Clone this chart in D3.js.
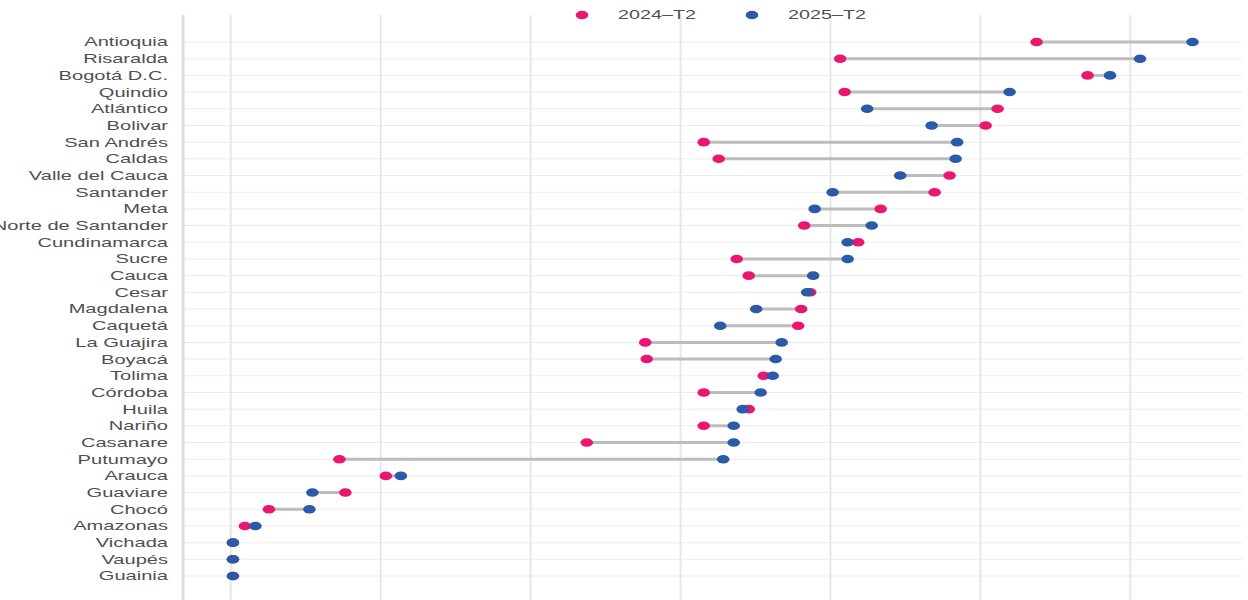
<!DOCTYPE html>
<html>
<head>
<meta charset="utf-8">
<script src="https://cdn.jsdelivr.net/npm/d3@7"></script>
<style>
  html, body { margin: 0; padding: 0; background: #fff; overflow: hidden; }
  svg { display: block; }
</style>
</head>
<body>
<svg id="chart"></svg>
<script>
// departments, top to bottom
var departments = ["Antioquia", "Risaralda", "Bogotá D.C.", "Quindio", "Atlántico", "Bolivar",
  "San Andrés", "Caldas", "Valle del Cauca", "Santander", "Meta", "Norte de Santander",
  "Cundinamarca", "Sucre", "Cauca", "Cesar", "Magdalena", "Caquetá", "La Guajira", "Boyacá",
  "Tolima", "Córdoba", "Huila", "Nariño", "Casanare", "Putumayo", "Arauca", "Guaviare",
  "Chocó", "Amazonas", "Vichada", "Vaupés", "Guainia"];

var t2024 = [53.8, 40.7, 57.2, 41.0, 51.2, 50.4, 31.6, 32.6, 48.0, 47.0, 43.4, 38.3,
  41.9, 33.8, 34.6, 38.7, 38.1, 37.9, 27.7, 27.8, 35.6, 31.6, 34.6, 31.6, 23.8, 7.3,
  10.4, 7.7, 2.6, 1.0, 0.2, 0.2, 0.2];

var t2025 = [64.2, 60.7, 58.7, 52.0, 42.5, 46.8, 48.5, 48.4, 44.7, 40.2, 39.0, 42.8,
  41.2, 41.2, 38.9, 38.5, 35.1, 32.7, 36.8, 36.4, 36.2, 35.4, 34.2, 33.6, 33.6, 32.9,
  11.4, 5.5, 5.3, 1.7, 0.2, 0.2, 0.2];

var seriesNames = ["2024\u2013T2", "2025\u2013T2"];
var xTicks = [0, 10, 20, 30, 40, 50, 60];

var colors = { pink: "#e9176f", blue: "#2b5ba8" };

// the picture is drawn stretched sideways, so work in a narrower viewBox
var W = 1248, H = 600, sx = 1.62;
var vw = W / sx;

var svg = d3.select("#chart")
  .attr("width", W)
  .attr("height", H)
  .attr("viewBox", "0 0 " + vw + " " + H)
  .attr("preserveAspectRatio", "none")
  .style("font-family", "'Liberation Sans', Arial, sans-serif");

var plot = { left: 183 / sx, right: 1242 / sx, top: 15, bottom: 600 };

var xScale = d3.scaleLinear()
  .domain([-3.13, 67.5])
  .range([plot.left, plot.right]);

var yScale = d3.scalePoint()
  .domain(departments)
  .range([42, 576]);

var data = departments.map(function(d, i) {
  return { name: d, a: t2024[i], b: t2025[i] };
});

// horizontal grid
svg.append("g")
  .selectAll("line")
  .data(departments)
  .enter().append("line")
  .attr("x1", plot.left)
  .attr("x2", plot.right)
  .attr("y1", function(d) { return yScale(d); })
  .attr("y2", function(d) { return yScale(d); })
  .attr("stroke", "#ececec")
  .attr("stroke-width", 1);

// vertical grid, no labels
var xAxis = d3.axisBottom(xScale)
  .tickValues(xTicks)
  .tickFormat("")
  .tickSizeInner(-(plot.bottom - plot.top))
  .tickSizeOuter(0);

var gx = svg.append("g")
  .attr("transform", "translate(0," + plot.bottom + ")")
  .call(xAxis);
gx.select(".domain").remove();
gx.selectAll(".tick line").attr("stroke", "#e6e6e6").attr("stroke-width", 1.2);

// y axis line + labels
var yAxis = d3.axisLeft(yScale).tickSize(0).tickPadding(15 / sx);
var gy = svg.append("g")
  .attr("transform", "translate(" + plot.left + ",0)")
  .call(yAxis);
gy.select(".domain").remove();
svg.append("line")
  .attr("x1", plot.left).attr("x2", plot.left)
  .attr("y1", plot.top).attr("y2", plot.bottom)
  .attr("stroke", "#dcdcdc")
  .attr("stroke-width", 1.8);
gy.selectAll(".tick text")
  .attr("fill", "#505050")
  .style("font-size", "12.4px")
  .style("font-family", "'Liberation Sans', Arial, sans-serif");

// connecting segments
svg.append("g")
  .selectAll("line")
  .data(data)
  .enter().append("line")
  .attr("x1", function(d) { return xScale(d.a); })
  .attr("x2", function(d) { return xScale(d.b); })
  .attr("y1", function(d) { return yScale(d.name); })
  .attr("y2", function(d) { return yScale(d.name); })
  .attr("stroke", "#bcbcbc")
  .attr("stroke-width", 3);

// dots: 2024 first, 2025 on top
var rx = 6.3 / sx, ry = 4.3;
svg.append("g")
  .selectAll("ellipse")
  .data(data)
  .enter().append("ellipse")
  .attr("cx", function(d) { return xScale(d.a); })
  .attr("cy", function(d) { return yScale(d.name); })
  .attr("rx", rx).attr("ry", ry)
  .attr("fill", colors.pink);

svg.append("g")
  .selectAll("ellipse")
  .data(data)
  .enter().append("ellipse")
  .attr("cx", function(d) { return xScale(d.b); })
  .attr("cy", function(d) { return yScale(d.name); })
  .attr("rx", rx).attr("ry", ry)
  .attr("fill", colors.blue);

// legend
var legend = svg.append("g");
var legendItems = [
  { name: seriesNames[0], color: colors.pink, x: 582 / sx },
  { name: seriesNames[1], color: colors.blue, x: 752 / sx }
];
legendItems.forEach(function(it) {
  legend.append("ellipse")
    .attr("cx", it.x).attr("cy", 15)
    .attr("rx", rx).attr("ry", ry)
    .attr("fill", it.color);
  legend.append("text")
    .attr("x", it.x + 36 / sx)
    .attr("y", 15)
    .attr("dy", "0.35em")
    .attr("fill", "#505050")
    .style("font-size", "12.2px")
    .text(it.name);
});
</script>
</body>
</html>
